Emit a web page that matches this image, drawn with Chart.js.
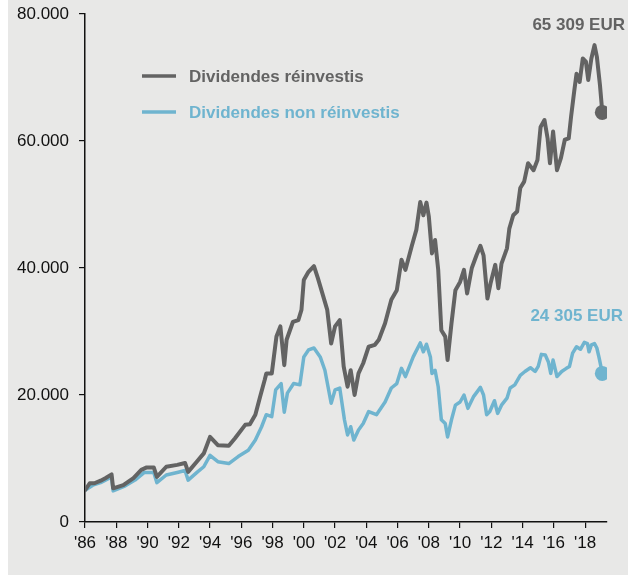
<!DOCTYPE html>
<html>
<head>
<meta charset="utf-8">
<script src="https://cdn.jsdelivr.net/npm/chart.js@4.4.1/dist/chart.umd.min.js"></script>
<style>
  body { margin: 0; background: #fff; }
  #bg { position: absolute; left: 8px; top: 0; width: 620px; height: 575px; background: #e8e8e7; }
  #wrap { position: absolute; left: 0; top: 0; width: 628px; height: 577px; }
</style>
</head>
<body>
<div id="bg"></div>
<div id="wrap"><canvas id="myChart" width="628" height="577"></canvas></div>
<script>
// Data (EUR)
const reinvestYears = [1986.0, 1986.3, 1986.6, 1987.0, 1987.3, 1987.7, 1987.8, 1988.45, 1989.1, 1989.6,
    1989.95, 1990.4, 1990.6, 1991.2, 1991.9, 1992.4, 1992.6, 1993.15, 1993.6, 1994.0,
    1994.5, 1995.2, 1995.6, 1996.25, 1996.55, 1996.9, 1997.2, 1997.5, 1997.6, 1997.95,
    1998.25, 1998.5, 1998.75, 1998.9, 1999.3, 1999.65, 1999.85, 2000.0, 2000.3, 2000.65,
    2000.9, 2001.25, 2001.5, 2001.75, 2002.0, 2002.3, 2002.55, 2002.8, 2003.0, 2003.25,
    2003.5, 2003.8, 2004.15, 2004.55, 2004.8, 2005.2, 2005.6, 2005.95, 2006.25, 2006.5,
    2006.9, 2007.2, 2007.45, 2007.65, 2007.85, 2008.0, 2008.2, 2008.4, 2008.6, 2008.8,
    2009.05, 2009.2, 2009.45, 2009.7, 2010.0, 2010.25, 2010.45, 2010.75, 2011.05, 2011.3,
    2011.5, 2011.75, 2011.95, 2012.25, 2012.45, 2012.65, 2013.0, 2013.15, 2013.4, 2013.65,
    2013.85, 2014.1, 2014.35, 2014.7, 2014.95, 2015.15, 2015.4, 2015.6, 2015.75, 2015.95,
    2016.2, 2016.45, 2016.7, 2016.95, 2017.1, 2017.3, 2017.45, 2017.65, 2017.85, 2018.05,
    2018.2, 2018.4, 2018.6, 2018.75, 2018.95, 2019.1];
const reinvestValues = [5000, 6100, 6100, 6500, 6900, 7500, 5300, 5800, 6900, 8200,
    8600, 8600, 7100, 8700, 9000, 9300, 7900, 9500, 10800, 13400,
    12100, 12000, 13200, 15300, 15400, 16900, 19700, 22400, 23400, 23400,
    29200, 30800, 24700, 28700, 31500, 31800, 33400, 38100, 39400, 40300,
    38400, 35500, 33400, 28100, 30800, 31800, 24500, 21300, 23900, 20000,
    23400, 25000, 27600, 27900, 28700, 31300, 35000, 36500, 41300, 39700,
    43400, 46000, 50400, 48300, 50300, 48100, 42300, 44400, 39700, 30200,
    29200, 25500, 31300, 36500, 37800, 39700, 36000, 40000, 42000, 43500,
    42000, 35200, 37600, 40500, 36800, 40700, 43100, 46200, 48300, 48900,
    52600, 53600, 56500, 55400, 57000, 62200, 63300, 60400, 56500, 61500,
    55400, 57300, 60200, 60400, 63800, 67800, 70600, 69300, 73000, 72500,
    69600, 73000, 75100, 73300, 68800, 64500];

const nonReinvestYears = [1986.0, 1986.5, 1987.0, 1987.7, 1987.8, 1988.5, 1989.2, 1989.8, 1990.4, 1990.6,
    1991.2, 1991.9, 1992.4, 1992.6, 1993.2, 1993.6, 1994.0, 1994.5, 1995.2, 1995.8,
    1996.45, 1996.9, 1997.3, 1997.6, 1997.95, 1998.2, 1998.55, 1998.75, 1998.95, 1999.35,
    1999.75, 2000.0, 2000.3, 2000.65, 2001.05, 2001.35, 2001.75, 2002.0, 2002.3, 2002.6,
    2002.8, 2003.0, 2003.2, 2003.5, 2003.8, 2004.15, 2004.65, 2005.2, 2005.6, 2005.95,
    2006.25, 2006.5, 2007.0, 2007.45, 2007.65, 2007.85, 2008.1, 2008.2, 2008.4, 2008.6,
    2008.8, 2009.05, 2009.2, 2009.45, 2009.7, 2010.0, 2010.25, 2010.5, 2010.85, 2011.3,
    2011.5, 2011.7, 2011.9, 2012.2, 2012.4, 2012.65, 2013.0, 2013.2, 2013.5, 2013.85,
    2014.15, 2014.5, 2014.8, 2015.0, 2015.2, 2015.45, 2015.65, 2015.8, 2015.95, 2016.2,
    2016.5, 2016.8, 2017.0, 2017.2, 2017.45, 2017.7, 2017.95, 2018.15, 2018.25, 2018.4,
    2018.6, 2018.75, 2018.9, 2019.1];
const nonReinvestValues = [5000, 5800, 6200, 7100, 4900, 5600, 6600, 7800, 7800, 6200,
    7400, 7800, 8100, 6600, 7900, 8700, 10500, 9500, 9200, 10300,
    11300, 12900, 15000, 16900, 16600, 20800, 21800, 17300, 20300, 21800,
    21600, 26000, 27100, 27400, 26000, 23900, 18700, 20800, 21100, 16100,
    13700, 15000, 12900, 14500, 15500, 17400, 16900, 18900, 21100, 21800,
    24200, 22900, 26000, 28200, 26800, 28000, 26000, 23400, 23900, 21300,
    16100, 15500, 13400, 16100, 18400, 18900, 20000, 17900, 19700, 21200,
    20000, 16900, 17400, 19100, 17100, 18400, 19500, 21100, 21600, 23100,
    23700, 24300, 23700, 24500, 26400, 26300, 25200, 23400, 25500, 22900,
    23700, 24200, 24500, 26600, 27600, 27200, 28300, 28100, 26800, 27900,
    28100, 27400, 25800, 23400];

const seriesLabels = ['Dividendes réinvestis', 'Dividendes non réinvestis'];
const endLabels = ['65 309 EUR', '24 305 EUR'];
const tickYears = [1986, 1988, 1990, 1992, 1994, 1996, 1998, 2000, 2002, 2004, 2006, 2008,
    2010, 2012, 2014, 2016, 2018];
const yTicks = [0, 20000, 40000, 60000, 80000];

const gray = 'rgb(99, 99, 99)';
const blue = 'rgb(111, 180, 207)';
const fontFamily = '"Liberation Sans", Arial, sans-serif';

function toPoints(xs, ys) {
    return xs.map((x, i) => ({ x: x, y: ys[i] }));
}
function lastDot(n) {
    return Array.from({ length: n }, (_, i) => (i === n - 1 ? 7.5 : 0));
}

// legend inside the plot + end value labels
const insideLegend = {
    id: 'insideLegend',
    afterDraw(chart) {
        const { ctx, chartArea } = chart;
        const rightEdges = [625, 623];
        const lift = [87, 57];
        ctx.save();
        ctx.font = 'bold 17px ' + fontFamily;
        ctx.textBaseline = 'middle';
        chart.data.datasets.forEach((ds, i) => {
            const x = chartArea.left + 57;
            const y = chartArea.top + 62 + i * 36;
            ctx.strokeStyle = ds.borderColor;
            ctx.lineWidth = 3.5;
            ctx.beginPath();
            ctx.moveTo(x, y);
            ctx.lineTo(x + 34, y);
            ctx.stroke();
            ctx.fillStyle = ds.borderColor;
            ctx.textAlign = 'left';
            ctx.fillText(ds.label, x + 47, y + 1);

            const meta = chart.getDatasetMeta(i);
            const last = meta.data[meta.data.length - 1];
            ctx.textAlign = 'right';
            ctx.fillText(endLabels[i], rightEdges[i], last.y - lift[i]);
        });
        ctx.restore();
    }
};

const ctx = document.getElementById('myChart').getContext('2d');
const myChart = new Chart(ctx, {
    type: 'line',
    data: {
        datasets: [{
            label: seriesLabels[0],
            data: toPoints(reinvestYears, reinvestValues),
            borderColor: gray,
            backgroundColor: gray,
            borderWidth: 4,
            pointRadius: lastDot(reinvestYears.length),
            pointBorderWidth: 0
        }, {
            label: seriesLabels[1],
            data: toPoints(nonReinvestYears, nonReinvestValues),
            borderColor: blue,
            backgroundColor: blue,
            borderWidth: 3.5,
            pointRadius: lastDot(nonReinvestYears.length),
            pointBorderWidth: 0
        }]
    },
    options: {
        responsive: false,
        animation: false,
        layout: { padding: { left: 0, top: 14, right: 21, bottom: 0 } },
        elements: { line: { tension: 0, borderJoinStyle: 'round', borderCapStyle: 'round' } },
        plugins: {
            legend: { display: false },
            tooltip: { enabled: false }
        },
        scales: {
            x: {
                type: 'linear',
                min: 1986,
                max: 2019.4,
                afterBuildTicks: (scale) => { scale.ticks = tickYears.map(v => ({ value: v })); },
                afterFit: (scale) => { scale.height = 55; scale.paddingLeft = 0; scale.paddingRight = 0; },
                border: { display: true, color: '#111', width: 1.5 },
                grid: { display: true, drawOnChartArea: false, drawTicks: true, tickLength: 6, color: '#111', lineWidth: 1.2 },
                ticks: {
                    padding: 5,
                    color: '#111',
                    font: { size: 17, family: fontFamily },
                    maxRotation: 0,
                    autoSkip: false,
                    callback: (v) => "'" + String(v).slice(2)
                }
            },
            y: {
                min: 0,
                max: 80000,
                afterBuildTicks: (scale) => { scale.ticks = yTicks.map(v => ({ value: v })); },
                afterFit: (scale) => { scale.width = 85; scale.paddingTop = 0; scale.paddingBottom = 0; },
                border: { display: true, color: '#111', width: 1.5 },
                grid: { display: true, drawOnChartArea: false, drawTicks: true, tickLength: 6, color: '#111', lineWidth: 1.2 },
                ticks: {
                    padding: 10,
                    color: '#111',
                    font: { size: 17, family: fontFamily },
                    callback: (v) => v === 0 ? '0' : (v / 1000) + '.000'
                }
            }
        }
    },
    plugins: [insideLegend]
});
</script>
</body>
</html>
